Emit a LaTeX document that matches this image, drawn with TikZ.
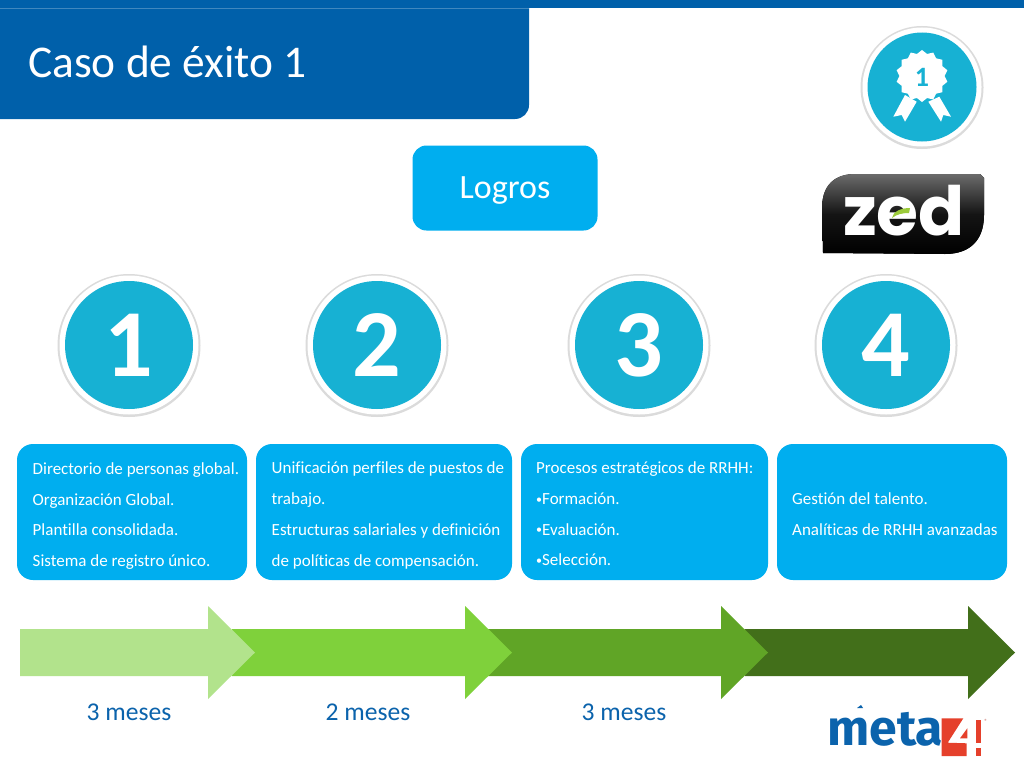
\documentclass[tikz,border=0pt]{standalone}
\usepackage{fontspec}
\setmainfont{Carlito}[Ligatures=NoCommon]
\newfontfamily\logofont{Poppins}
\newfontfamily\metafont{Fira Sans}
\usetikzlibrary{shapes.geometric}
\definecolor{barblue}{HTML}{0060AA}
\definecolor{boxblue}{HTML}{00AEEF}
\definecolor{discteal}{HTML}{17B1D3}
\definecolor{mesesblue}{HTML}{0B63AC}
\definecolor{metared}{HTML}{E5402B}
\definecolor{zedgreen}{HTML}{9CCB3B}
\definecolor{arrowpale}{HTML}{B2E38C}
\definecolor{arrowlime}{HTML}{7FD13B}
\definecolor{arrowmid}{HTML}{60A526}
\definecolor{arrowdark}{HTML}{426F1A}
\newcommand{\smallbul}{\raisebox{0.15ex}{\fontsize{12}{12}\selectfont •}}
\tikzset{
  ringshade/.style={circle,fill=black!14,minimum size=#1,inner sep=0pt},
  ringwhite/.style={circle,fill=white,minimum size=#1,inner sep=0pt},
  numdisc/.style={circle,fill=discteal,minimum size=128,inner sep=0pt,text=white,font=\fontsize{96}{96}\selectfont\bfseries},
  bluebox/.style={rectangle,rounded corners=16,fill=boxblue,inner sep=0pt},
  boxtext/.style={anchor=west,inner sep=0pt,align=left,text=white,font=\fontsize{17}{30.7}\selectfont},
  mesestext/.style={inner sep=0pt,text=mesesblue,font=\fontsize{25.6}{26}\selectfont},
}
\begin{document}
\begin{tikzpicture}[x=1pt,y=-1pt]
  \useasboundingbox (0,0) rectangle (1024,768);
  \fill[white] (0,0) rectangle (1024,768);
  \fill[barblue] (0,0) rectangle (1024,8);
  \fill[barblue] (0,8) -- (529,8) [rounded corners=14] -- (529,119) [sharp corners] -- (0,119) -- cycle;
  \draw[barblue!75!white,line width=0.5] (0,8.3) -- (529,8.3);
  \draw
    (28,62) node[anchor=west,inner sep=0pt,text=white,font=\fontsize{45.4}{45}\selectfont] (title){Caso de éxito 1};
  \draw
    (505,188) node[bluebox,rounded corners=14,minimum width=185,minimum height=85] (logros){}
    (505,191) node[inner sep=0pt,text=white,font=\fontsize{34}{34}\selectfont] (logrostext){Logros};
  \draw
    (922,87.5) node[ringshade=123] (medalshade){}
    (922,87) node[ringwhite=119] (medalwhite){}
    (922,87) node[circle,fill=discteal,minimum size=109,inner sep=0pt] (medaldisc){};
  \fill[white] (905,95) -- (916.7,101.7) -- (905,121.7) -- (901.7,115) -- (893.3,116.7) -- cycle;
  \fill[white] (939.3,96.7) -- (928.3,101.7) -- (941,121.7) -- (943.3,115) -- (951,116.7) -- cycle;
  \draw
    (922,76) node[star,star points=14,star point ratio=1.15,fill=white,minimum size=52,inner sep=0pt] (rosette){}
    (922,77) node[inner sep=0pt,text=discteal,font=\fontsize{28}{28}\selectfont\bfseries] (medalnum){1};
  \fill[top color=black!58,bottom color=black,middle color=black!92] (823,253) -- (822,208) .. controls (822,185) and (835,174) .. (855,174) -- (980,174) -- (984,178) -- (984,215) .. controls (984,240) and (970,254) .. (945,254) -- cycle;
  \draw
    (904,235) node[anchor=base,inner sep=0pt,text=white,font=\logofont\fontsize{68}{68}\selectfont\bfseries] (zed){zed};
  \fill[zedgreen] (892,218) .. controls (893,212) and (900,208) .. (910,208) -- (909,213) .. controls (903,213) and (897,214) .. (892,218) -- cycle;
  \draw
    (129,345.5) node[ringshade=143] (shadea){}
    (377,345.5) node[ringshade=143] (shadeb){}
    (639,345.5) node[ringshade=143] (shadec){}
    (886,345.5) node[ringshade=143] (shaded){}
    (129,345) node[ringwhite=139] (whitea){}
    (377,345) node[ringwhite=139] (whiteb){}
    (639,345) node[ringwhite=139] (whitec){}
    (886,345) node[ringwhite=139] (whited){}
    (129,345) node[numdisc] (numa){1}
    (377,345) node[numdisc] (numb){2}
    (639,345) node[numdisc] (numc){3}
    (886,345) node[numdisc] (numd){4};
  \draw
    (132,512) node[bluebox,minimum width=230,minimum height=136] (boxa){}
    (384,512) node[bluebox,minimum width=256,minimum height=136] (boxb){}
    (644.5,512) node[bluebox,minimum width=247,minimum height=136] (boxc){}
    (892,512) node[bluebox,minimum width=230,minimum height=136] (boxd){};
  \draw
    (32.5,516) node[boxtext] (texta){Directorio de personas global.\\Organización Global.\\Plantilla consolidada.\\Sistema de registro único.}
    (271.5,515.5) node[boxtext] (textb){Unificación perfiles de puestos de\\trabajo.\\Estructuras salariales y definición\\de políticas de compensación.}
    (536,514) node[boxtext] (textc){Procesos estratégicos de RRHH:\\\smallbul Formación.\\\smallbul Evaluación.\\\smallbul Selección.}
    (792,514.5) node[boxtext] (textd){Gestión del talento.\\Analíticas de RRHH avanzadas};
  \fill[arrowdark] (745,629) -- (968,629) -- (968,606) -- (1015,652.5) -- (968,699) -- (968,676) -- (745,676) -- cycle;
  \fill[arrowmid] (488,629) -- (721,629) -- (721,606) -- (768,652.5) -- (721,699) -- (721,676) -- (488,676) -- cycle;
  \fill[arrowlime] (232,629) -- (465,629) -- (465,606) -- (512,652.5) -- (465,699) -- (465,676) -- (232,676) -- cycle;
  \fill[arrowpale] (20,629) -- (208,629) -- (208,606) -- (255,652.5) -- (208,699) -- (208,676) -- (20,676) -- cycle;
  \draw
    (129,712) node[mesestext] (mesesa){3 meses}
    (368,712) node[mesestext] (mesesb){2 meses}
    (624,712) node[mesestext] (mesesc){3 meses};
  \fill[mesesblue] (857,708) -- (861,705) -- (863,708) -- cycle;
  \draw
    (827,745) node[anchor=base west,inner sep=0pt,text=mesesblue,font=\metafont\fontsize{50}{50}\selectfont\bfseries] (meta){meta};
  \fill[metared] (941.7,718.3) -- (963.3,718.3) -- (947.7,742.7) -- (966.7,743.3) -- (966.7,756) -- (941.7,756) -- cycle;
  \fill[metared] (960,738.3) -- (967.3,728.3) -- (967.3,738.3) -- cycle;
  \fill[metared] (975.7,720) rectangle (981,743);
  \fill[metared] (975.7,748) rectangle (981,756);
  \draw
    (986,721) node[inner sep=0pt,text=metared!60!gray,font=\fontsize{6}{6}\selectfont] (regmark){®};
\end{tikzpicture}
\end{document}
